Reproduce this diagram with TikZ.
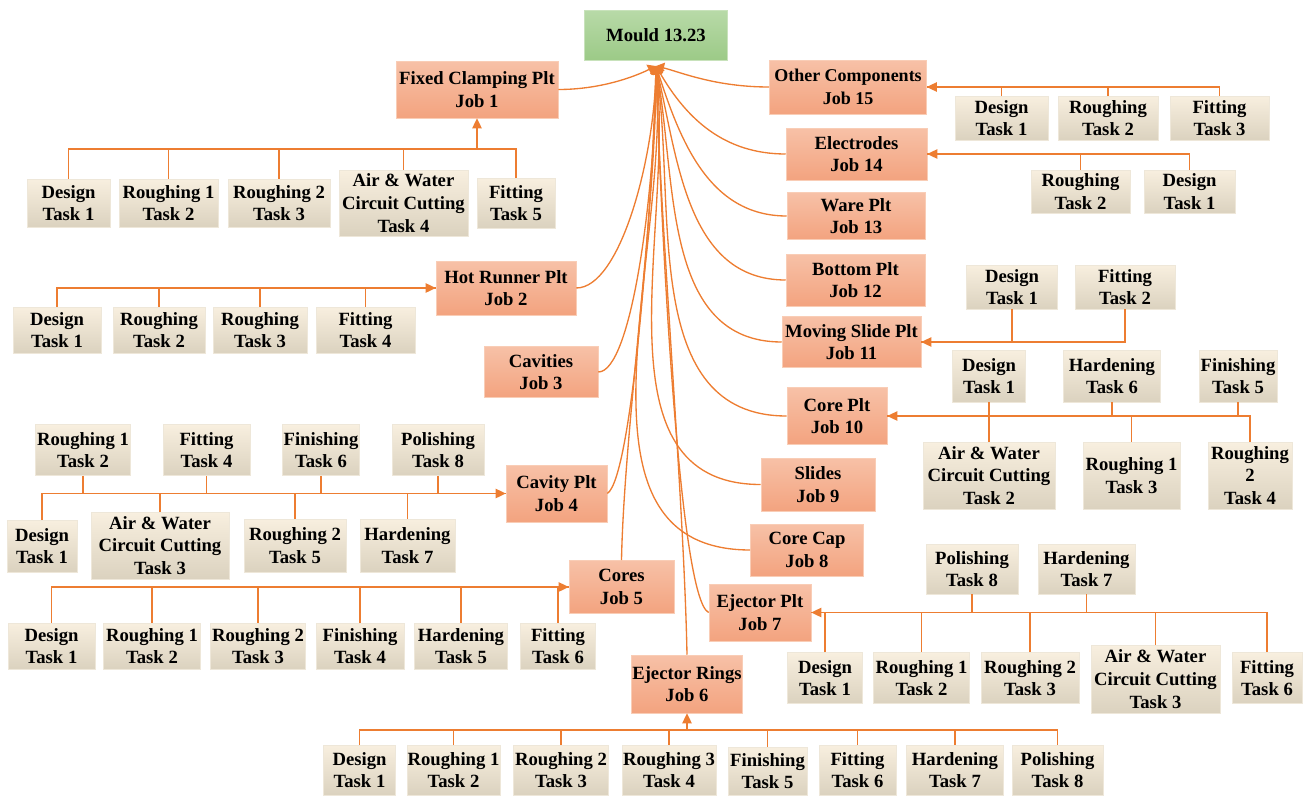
\documentclass[tikz,border=0pt]{standalone}
\usepackage{fontspec}
\setmainfont{Liberation Serif}
\usetikzlibrary{arrows.meta}
\definecolor{jobtop}{HTML}{F7C1A7}
\definecolor{jobbot}{HTML}{F3A37F}
\definecolor{jobedge}{HTML}{F9CDB6}
\definecolor{tasktop}{HTML}{F8EFDF}
\definecolor{taskbot}{HTML}{DBD2BF}
\definecolor{taskedge}{HTML}{EEE7D9}
\definecolor{mtop}{HTML}{B8DAA8}
\definecolor{mbot}{HTML}{9CCA87}
\definecolor{medge}{HTML}{C8E2BB}
\definecolor{lor}{HTML}{ED7D31}
\newcommand\boxfont{\fontsize{14}{17}\selectfont\bfseries}
\newcommand\narrowfont{\fontsize{13.5}{17}\selectfont\bfseries}
\tikzset{
  jobbox/.style={draw=jobedge, top color=jobtop, bottom color=jobbot, align=center, inner sep=0pt, font=\boxfont},
  taskbox/.style={draw=taskedge, top color=tasktop, bottom color=taskbot, align=center, inner sep=0pt, font=\boxfont},
  mouldbox/.style={draw=medge, top color=mtop, bottom color=mbot, align=center, inner sep=0pt, font=\boxfont},
  sz/.style 2 args={minimum width=#1*0.75pt, minimum height=#2*0.75pt},
  conn/.style={draw=lor, line width=1pt},
  barr/.style={-{Triangle[length=7.5pt,width=7pt]}},
  harr/.style={-{Triangle[length=6pt,width=8pt]}}
}
\begin{document}
\begin{tikzpicture}[x=0.75pt,y=-0.75pt]
\useasboundingbox (0,0) rectangle (1307,796);
% root
\node[mouldbox, sz={143}{50}] (m) at (656,35) {Mould 13.23};
\coordinate (hub) at (656,66);
% jobs
\node[jobbox, sz={162}{57}] (j1) at (477,89.5) {Fixed Clamping Plt\\Job 1};
\node[jobbox, sz={140}{54}] (j2) at (506,288) {Hot Runner Plt\\Job 2};
\node[jobbox, sz={114}{51}] (j3) at (541,372) {Cavities\\Job 3};
\node[jobbox, sz={101}{57}] (j4) at (556.5,493.5) {Cavity Plt\\Job 4};
\node[jobbox, sz={105}{53}] (j5) at (621.5,587) {Cores\\Job 5};
\node[jobbox, sz={111}{58}] (j6) at (687,684) {Ejector Rings\\Job 6};
\node[jobbox, sz={102}{57}] (j7) at (760,612.5) {Ejector Plt\\Job 7};
\node[jobbox, sz={113}{52}] (j8) at (807,550) {Core Cap\\Job 8};
\node[jobbox, sz={114}{53}] (j9) at (818,484.5) {Slides\\Job 9};
\node[jobbox, sz={100}{57}] (j10) at (837,416) {Core Plt\\Job 10};
\node[jobbox, sz={139}{51}] (j11) at (851.5,342) {Moving Slide Plt\\Job 11};
\node[jobbox, sz={139}{52}] (j12) at (855.5,280) {Bottom Plt\\Job 12};
\node[jobbox, sz={138}{47}] (j13) at (856,216) {Ware Plt\\Job 13};
\node[jobbox, sz={141}{52}] (j14) at (856.5,154) {Electrodes\\Job 14};
\node[jobbox, sz={157}{54}, font=\narrowfont] (j15) at (848,87) {Other Components\\Job 15};
% hub connectors
\draw[conn,harr] (j1.east) .. controls (605,89.5) and (640,74) .. (hub);
\draw[conn,harr] (j15.west) .. controls (715,87) and (680,72) .. (hub);
\draw[conn,harr] (j14.west) to[out=180,in=-60] (hub);
\draw[conn,harr] (j13.west) to[out=180,in=-72] (hub);
\draw[conn,harr] (j12.west) to[out=180,in=-77] (hub);
\draw[conn,harr] (j11.west) to[out=180,in=-80] (hub);
\draw[conn,harr] (j10.west) to[out=180,in=-82] (hub);
\draw[conn,harr] (j9.west) to[out=180,in=-84] (hub);
\draw[conn,harr] (j8.west) to[out=180,in=-86] (hub);
\draw[conn,harr] (j7.west) .. controls (680,600) and (662,250) .. (hub);
\draw[conn,harr] (j6.north) .. controls (684,500) and (660,220) .. (hub);
\draw[conn,harr] (j5.north) .. controls (624,430) and (656,210) .. (hub);
\draw[conn,harr] (j4.east) .. controls (632,478) and (652,210) .. (hub);
\draw[conn,harr] (j3.east) .. controls (632,372) and (655,190) .. (hub);
\draw[conn,harr] (j2.east) .. controls (620,288) and (654,160) .. (hub);
% Job 1 tasks
\node[taskbox, sz={83}{48}] (t11) at (68.5,203) {Design\\Task 1};
\node[taskbox, sz={99}{48}] (t12) at (168.5,203) {Roughing 1\\Task 2};
\node[taskbox, sz={102}{48}] (t13) at (279,203) {Roughing 2\\Task 3};
\node[taskbox, sz={129}{66}] (t14) at (403.5,203) {Air \& Water\\Circuit Cutting\\Task 4};
\node[taskbox, sz={78}{50}] (t15) at (516,203) {Fitting\\Task 5};
\coordinate (b1) at (477,149);
\foreach \t in {t11,t12,t13,t14,t15} \draw[conn] (\t.north) |- (b1);
\draw[conn,barr] (b1) -- (j1.south);
% Job 2 tasks
\node[taskbox, sz={88}{46}] (t21) at (57,330) {Design\\Task 1};
\node[taskbox, sz={92}{46}] (t22) at (159,330) {Roughing\\Task 2};
\node[taskbox, sz={94}{46}] (t23) at (260,330) {Roughing\\Task 3};
\node[taskbox, sz={99}{46}] (t24) at (365.5,330) {Fitting\\Task 4};
\foreach \t in {t22,t23,t24} \draw[conn] (\t.north) |- (j2.west);
\draw[conn,barr] (t21.north) |- (j2.west);
% Job 4 tasks
\node[taskbox, sz={95}{51}] (t42) at (83,450) {Roughing 1\\Task 2};
\node[taskbox, sz={87}{51}] (t44) at (206.5,450) {Fitting\\Task 4};
\node[taskbox, sz={77}{51}] (t46) at (321,450) {Finishing\\Task 6};
\node[taskbox, sz={92}{51}] (t48) at (438,450) {Polishing\\Task 8};
\node[taskbox, sz={70}{52}] (t41) at (42,546) {Design\\Task 1};
\node[taskbox, sz={138}{67}] (t43) at (160,545.5) {Air \& Water\\Circuit Cutting\\Task 3};
\node[taskbox, sz={102}{53}] (t45) at (295,545.5) {Roughing 2\\Task 5};
\node[taskbox, sz={95}{53}] (t47) at (407.5,545.5) {Hardening\\Task 7};
\foreach \t in {t42,t44,t46,t48} \draw[conn] (\t.south) |- (j4.west);
\foreach \t in {t43,t45,t47} \draw[conn] (\t.north) |- (j4.west);
\draw[conn,barr] (t41.north) |- (j4.west);
% Job 5 tasks
\node[taskbox, sz={87}{46}] (t51) at (51.5,646) {Design\\Task 1};
\node[taskbox, sz={97}{46}] (t52) at (152,646) {Roughing 1\\Task 2};
\node[taskbox, sz={95}{46}] (t53) at (258,646) {Roughing 2\\Task 3};
\node[taskbox, sz={88}{46}] (t54) at (360,646) {Finishing\\Task 4};
\node[taskbox, sz={93}{46}] (t55) at (461,646) {Hardening\\Task 5};
\node[taskbox, sz={75}{46}] (t56) at (558,646) {Fitting\\Task 6};
\foreach \t in {t52,t53,t54,t55,t56} \draw[conn] (\t.north) |- (j5.west);
\draw[conn,barr] (t51.north) |- (j5.west);
% Job 6 tasks
\node[taskbox, sz={72}{50}] (t61) at (359.5,770) {Design\\Task 1};
\node[taskbox, sz={93}{50}] (t62) at (453.5,770) {Roughing 1\\Task 2};
\node[taskbox, sz={95}{50}] (t63) at (561,770) {Roughing 2\\Task 3};
\node[taskbox, sz={94}{50}] (t64) at (669,770) {Roughing 3\\Task 4};
\node[taskbox, sz={79}{48}] (t65) at (767.5,771) {Finishing\\Task 5};
\node[taskbox, sz={77}{50}] (t66) at (857.5,770) {Fitting\\Task 6};
\node[taskbox, sz={97}{50}] (t67) at (955,770) {Hardening\\Task 7};
\node[taskbox, sz={91}{50}] (t68) at (1057.5,770) {Polishing\\Task 8};
\coordinate (b6) at (687,730);
\foreach \t in {t61,t62,t63,t64,t65,t66,t67,t68} \draw[conn] (\t.north) |- (b6);
\draw[conn,barr] (b6) -- (j6.south);
% Job 7 tasks
\node[taskbox, sz={92}{50}] (t78) at (972,569) {Polishing\\Task 8};
\node[taskbox, sz={97}{50}] (t77) at (1086.5,569) {Hardening\\Task 7};
\node[taskbox, sz={75}{51}] (t71) at (825,678) {Design\\Task 1};
\node[taskbox, sz={96}{51}] (t72) at (921.5,678) {Roughing 1\\Task 2};
\node[taskbox, sz={98}{51}] (t73) at (1030,678) {Roughing 2\\Task 3};
\node[taskbox, sz={129}{68}] (t74) at (1155.5,679) {Air \& Water\\Circuit Cutting\\Task 3};
\node[taskbox, sz={70}{51}] (t76) at (1267,678) {Fitting\\Task 6};
\foreach \t in {t78,t77} \draw[conn] (\t.south) |- (j7.east);
\foreach \t in {t71,t72,t73,t74} \draw[conn] (\t.north) |- (j7.east);
\draw[conn,barr] (t76.north) |- (j7.east);
% Job 10 tasks
\node[taskbox, sz={73}{52}] (ta1) at (989,376) {Design\\Task 1};
\node[taskbox, sz={97}{52}] (ta6) at (1112,376) {Hardening\\Task 6};
\node[taskbox, sz={78}{52}] (ta5) at (1238,376) {Finishing\\Task 5};
\node[taskbox, sz={132}{67}] (ta2) at (989,475.5) {Air \& Water\\Circuit Cutting\\Task 2};
\node[taskbox, sz={97}{67}] (ta3) at (1131.5,475.5) {Roughing 1\\Task 3};
\node[taskbox, sz={84}{67}] (ta4) at (1250,475.5) {Roughing\\2\\Task 4};
\foreach \t in {ta1,ta6,ta5} \draw[conn] (\t.south) |- (j10.east);
\foreach \t in {ta2,ta3} \draw[conn] (\t.north) |- (j10.east);
\draw[conn,barr] (ta4.north) |- (j10.east);
% Job 11 tasks
\node[taskbox, sz={91}{44}] (tb1) at (1012,287) {Design\\Task 1};
\node[taskbox, sz={100}{44}] (tb2) at (1125,287) {Fitting\\Task 2};
\draw[conn] (tb1.south) |- (j11.east);
\draw[conn,barr] (tb2.south) |- (j11.east);
% Job 14 tasks
\node[taskbox, sz={99}{43}] (tc2) at (1080.5,191.5) {Roughing\\Task 2};
\node[taskbox, sz={91}{43}] (tc1) at (1189.5,191.5) {Design\\Task 1};
\draw[conn] (tc2.north) |- (j14.east);
\draw[conn,barr] (tc1.north) |- (j14.east);
% Job 15 tasks
\node[taskbox, sz={93}{44}] (td1) at (1001.5,118) {Design\\Task 1};
\node[taskbox, sz={100}{44}] (td2) at (1108,118) {Roughing\\Task 2};
\node[taskbox, sz={99}{44}] (td3) at (1219.5,118) {Fitting\\Task 3};
\draw[conn] (td1.north) |- (j15.east);
\draw[conn] (td2.north) |- (j15.east);
\draw[conn,barr] (td3.north) |- (j15.east);
\end{tikzpicture}
\end{document}
